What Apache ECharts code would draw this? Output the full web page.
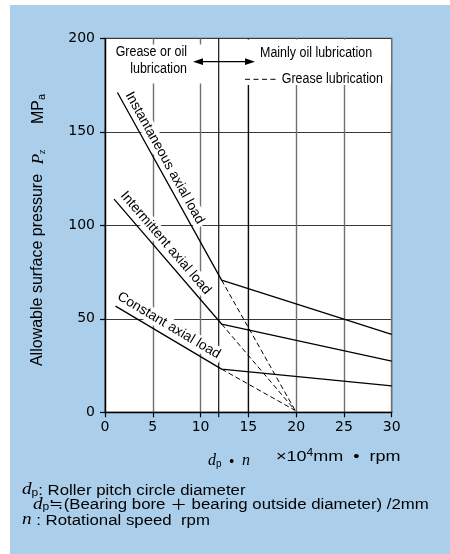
<!DOCTYPE html>
<html><head><meta charset="utf-8">
<script src="https://cdn.jsdelivr.net/npm/echarts@6/dist/echarts.min.js"></script>
<style>
html,body{margin:0;padding:0;background:#fff;}
#wrap{position:relative;width:450px;height:554px;overflow:hidden;}
#panel{position:absolute;left:10px;top:5px;width:440px;height:549px;background:#abcfeb;}
#chart{position:absolute;left:0;top:0;width:450px;height:554px;}
</style></head><body>
<div id="wrap"><div id="panel"></div><div id="chart"></div></div>
<script>
// ---- data ----
const xTicks = [0, 5, 10, 15, 20, 25, 30];
const yTicks = [0, 50, 100, 150, 200];
const instantaneousLoad = [[1.3, 171], [12.2, 70.7], [30, 41.7]];
const intermittentLoad  = [[0.95, 114], [12.2, 47.2], [30, 27.4]];
const constantLoad      = [[1.1, 56.8], [12.2, 23.1], [30, 14.1]];
const greaseLimit = [19.9, 1];
const boundaryLine = [[11.9, -2.7], [11.9, 200]];
const oilRegionLine = [[15, 0], [15, 200]];
const loadNames = ['Instantaneous axial load', 'Intermittent axial load', 'Constant axial load'];

const SANS = '"Liberation Sans", Arial, Helvetica, "Noto Sans CJK JP", sans-serif';
const SERIF = '"Liberation Serif", "Times New Roman", serif';
const TICKF = '"DejaVu Sans", sans-serif';

const chart = echarts.init(document.getElementById('chart'), null, {renderer: 'canvas'});

const solid = (name, data) => ({
  type: 'line', name, data, symbol: 'none', silent: true, animation: false, z: 3,
  lineStyle: {color: '#000', width: 1.3}
});
const dashed = (name, data) => ({
  type: 'line', name: name + ' (grease)', data: [data[1], greaseLimit], symbol: 'none',
  silent: true, animation: false, z: 3,
  lineStyle: {color: '#000', width: 1, type: [5, 3]}
});
const vline = (name, data) => ({
  type: 'line', name, data, symbol: 'none', silent: true, animation: false, z: 3, clip: false,
  lineStyle: {color: '#000', width: 1.1}
});

const axisCommon = {
  type: 'value',
  axisLine: {show: true, onZero: false, lineStyle: {color: '#000', width: 1.3}},
  axisTick: {show: true, inside: false, length: 5, lineStyle: {color: '#000', width: 1.2}},
};

const option = {
  animation: false,
  grid: {left: 105, top: 38.3, width: 286.7, height: 374, show: true, backgroundColor: '#fff',
         borderColor: '#4a4a4a', borderWidth: 1.2, containLabel: false, outerBoundsMode: 'none'},
  xAxis: Object.assign({}, axisCommon, {
    min: xTicks[0], max: xTicks[xTicks.length - 1], interval: xTicks[1] - xTicks[0],
    axisLabel: {margin: 8, color: '#000', fontFamily: TICKF, fontSize: 14},
    splitLine: {show: true, lineStyle: {color: '#707070', width: 1.4}}
  }),
  yAxis: Object.assign({}, axisCommon, {
    min: yTicks[0], max: yTicks[yTicks.length - 1], interval: yTicks[1] - yTicks[0],
    axisLabel: {margin: 10, color: '#000', fontFamily: TICKF, fontSize: 14},
    splitLine: {show: true, lineStyle: {color: '#3a3a3a', width: 1.2}}
  }),
  series: [
    vline('boundary', boundaryLine),
    vline('oil region', oilRegionLine),
    solid(loadNames[0], instantaneousLoad),
    solid(loadNames[1], intermittentLoad),
    solid(loadNames[2], constantLoad),
    dashed(loadNames[0], instantaneousLoad),
    dashed(loadNames[1], intermittentLoad),
    dashed(loadNames[2], constantLoad)
  ]
};
chart.setOption(option);

// ---- annotations ----
const px = p => chart.convertToPixel({gridIndex: 0}, p);
function segLabel(data, text, t, off) {
  const a = px(data[0]), b = px(data[1]);
  const dx = b[0] - a[0], dy = b[1] - a[1];
  const len = Math.hypot(dx, dy);
  const ux = dx / len, uy = dy / len;
  const nx = uy, ny = -ux;
  return {
    type: 'text', x: a[0] + ux * len * t + nx * off, y: a[1] + uy * len * t + ny * off,
    rotation: -Math.atan2(dy, dx), z: 20,
    style: {text, fontFamily: SANS, fontSize: 13.8, fill: '#000',
            align: 'center', verticalAlign: 'middle', textAlign: 'center', textVerticalAlign: 'middle',
            backgroundColor: '#fff', padding: [1, 3]}
  };
}
function txt(x, y, text, align, scaleX) {
  return {
    type: 'text', x, y, z: 20, scaleX: scaleX || 1,
    style: {text, fontFamily: SANS, fontSize: 14, fill: '#000',
            align: align, verticalAlign: 'middle', textAlign: align, textVerticalAlign: 'middle'}
  };
}

const richBase = {
  d: {fontFamily: SERIF, fontStyle: 'italic', fontSize: 16, verticalAlign: 'bottom', lineHeight: 18, fill: '#000'},
  s: {fontFamily: SANS, fontSize: 10, verticalAlign: 'bottom', lineHeight: 18, fill: '#000'},
  t: {fontFamily: SANS, fontSize: 14, verticalAlign: 'bottom', lineHeight: 18, fill: '#000'},
};
const richText = (x, y, text, rich, scaleX) => ({
  type: 'text', x, y, z: 20, scaleX: scaleX || 1,
  style: {text, align: 'left', verticalAlign: 'middle', textAlign: 'left', textVerticalAlign: 'middle', rich}
});

const g = [
  // white boxes behind top annotations
  {type: 'rect', z: 15, shape: {x: 108, y: 44.5, width: 98, height: 39}, style: {fill: '#fff'}},
  {type: 'rect', z: 15, shape: {x: 240, y: 39.5, width: 150.8, height: 45.5}, style: {fill: '#fff'}},
  txt(187, 52.5, 'Grease or oil', 'right', 0.89),
  txt(187, 69, 'lubrication', 'right', 0.89),
  txt(260, 53.3, 'Mainly oil lubrication', 'left', 0.89),
  txt(281.7, 79, 'Grease lubrication', 'left', 0.89),
  {type: 'line', z: 20, shape: {x1: 245, y1: 79.3, x2: 276, y2: 79.3},
   style: {stroke: '#000', lineWidth: 1, lineDash: [5, 3.5]}},
  // double arrow
  {type: 'line', z: 20, shape: {x1: 198, y1: 61.7, x2: 250, y2: 61.7}, style: {stroke: '#000', lineWidth: 1.2}},
  {type: 'polygon', z: 20, shape: {points: [[193, 61.7], [203, 58.3], [203, 65.1]]}, style: {fill: '#000'}},
  {type: 'polygon', z: 20, shape: {points: [[255, 61.7], [245, 58.3], [245, 65.1]]}, style: {fill: '#000'}},
  // rotated curve labels
  segLabel(instantaneousLoad, loadNames[0], 0.373, 9.5),
  segLabel(intermittentLoad, loadNames[1], 0.406, 10.5),
  segLabel(constantLoad, loadNames[2], 0.452, 10.5),
  // y axis title
  {type: 'text', x: 38, y: 270, rotation: Math.PI / 2, z: 20,
   style: {text: 'Allowable surface pressure', fontFamily: SANS, fontSize: 16, fill: '#000',
           align: 'center', verticalAlign: 'middle', textAlign: 'center', textVerticalAlign: 'middle'}},
  {type: 'text', x: 38, y: 157, rotation: Math.PI / 2, z: 20,
   style: {text: '{p|P}{z|z}', align: 'center', verticalAlign: 'middle', textAlign: 'center', textVerticalAlign: 'middle',
           rich: {p: {fontFamily: SERIF, fontStyle: 'italic', fontSize: 17, verticalAlign: 'bottom', lineHeight: 19, fill: '#000'},
                  z: {fontFamily: SERIF, fontStyle: 'italic', fontSize: 11, verticalAlign: 'bottom', lineHeight: 19, fill: '#000'}}}},
  {type: 'text', x: 38, y: 109, rotation: Math.PI / 2, z: 20,
   style: {text: '{m|MP}{a|a}', align: 'center', verticalAlign: 'middle', textAlign: 'center', textVerticalAlign: 'middle',
           rich: {m: {fontFamily: SANS, fontSize: 16, verticalAlign: 'bottom', lineHeight: 18, fill: '#000'},
                  a: {fontFamily: SANS, fontSize: 11, verticalAlign: 'bottom', lineHeight: 18, fill: '#000'}}}},
  // x axis title
  richText(208, 460, '{d|d}{s|p}{t|  •  }{d|n}', richBase, 1),
  richText(276, 457, '{m|×10}{sup|4}{m|mm  •  rpm}', {
    m: {fontFamily: SANS, fontSize: 15, verticalAlign: 'middle', lineHeight: 18, fill: '#000'},
    sup: {fontFamily: SANS, fontSize: 10, verticalAlign: 'top', lineHeight: 12, fill: '#000'}
  }, 1.2),
  // footnotes
  richText(22, 489, '{d|d}{s|p}{t|: Roller pitch circle diameter}', richBase, 1.2),
  richText(33, 503.5, '{d|d}{s|p}{t|≒(Bearing bore ＋ bearing outside diameter) /2mm}', richBase, 1.2),
  richText(22, 519, '{d|n}{t| : Rotational speed  rpm}', richBase, 1.2)
];
chart.setOption({graphic: {elements: g}});
</script>
</body></html>
